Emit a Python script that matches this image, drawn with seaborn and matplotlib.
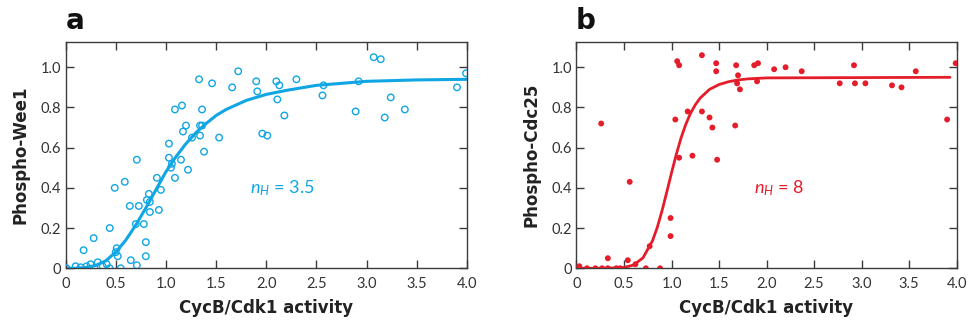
import matplotlib
matplotlib.use('Agg')
import pandas as pd
import matplotlib.pyplot as plt
import seaborn as sns

WEE1_COLOR = '#10A6E4'
CDC25_COLOR = '#E51D2A'
AXIS_COLOR = '#3c3c3c'

# panel a: phospho-Wee1 measurements (open circles)
wee1_x = [0.01, 0.10, 0.15, 0.21, 0.18, 0.25, 0.28, 0.29, 0.32, 0.37, 0.41, 0.44, 0.44,
          0.49, 0.50, 0.51, 0.52, 0.55, 0.59, 0.64, 0.65, 0.70, 0.71, 0.71, 0.73, 0.78,
          0.80, 0.80, 0.81, 0.83, 0.84, 0.84, 0.91, 0.93, 0.95, 1.03, 1.03, 1.05, 1.06,
          1.09, 1.09, 1.15, 1.16, 1.17, 1.20, 1.22, 1.26, 1.33, 1.34, 1.34, 1.36, 1.36,
          1.38, 1.46, 1.53, 1.66, 1.72, 1.90, 1.91, 1.96, 2.01, 2.10, 2.11, 2.13, 2.18,
          2.30, 2.56, 2.57, 2.89, 2.92, 3.07, 3.14, 3.18, 3.24, 3.38, 3.90, 3.99]
wee1_y = [0.00, 0.01, 0.005, 0.01, 0.09, 0.02, 0.15, 0.00, 0.03, 0.01, 0.02, 0.20, 0.00,
          0.40, 0.08, 0.10, 0.06, 0.00, 0.43, 0.31, 0.04, 0.22, 0.54, 0.015, 0.31, 0.22,
          0.13, 0.06, 0.34, 0.37, 0.33, 0.28, 0.45, 0.29, 0.39, 0.55, 0.62, 0.50, 0.52,
          0.45, 0.79, 0.54, 0.81, 0.68, 0.71, 0.49, 0.65, 0.94, 0.66, 0.71, 0.79, 0.71,
          0.58, 0.92, 0.65, 0.90, 0.98, 0.93, 0.88, 0.67, 0.66, 0.93, 0.84, 0.91, 0.76,
          0.94, 0.86, 0.91, 0.78, 0.93, 1.05, 1.04, 0.75, 0.85, 0.79, 0.90, 0.97]

# panel a: fitted curve, n_H = 3.5
wee1_fit_x = [0.0, 0.1, 0.2, 0.3, 0.4, 0.5, 0.6, 0.7, 0.8, 0.9, 1.0, 1.1, 1.2, 1.3, 1.4,
              1.5, 1.6, 1.8, 2.0, 2.2, 2.5, 3.0, 3.5, 4.0]
wee1_fit_y = [0.0, 0.0, 0.004, 0.014, 0.037, 0.08, 0.14, 0.215, 0.30, 0.39, 0.48, 0.555,
              0.62, 0.675, 0.72, 0.76, 0.79, 0.835, 0.865, 0.885, 0.91, 0.93, 0.937, 0.94]

# panel b: phospho-Cdc25 measurements (filled dots)
cdc25_x = [0.03, 0.11, 0.20, 0.27, 0.26, 0.33, 0.33, 0.42, 0.46, 0.54, 0.56, 0.62, 0.73,
           0.77, 0.88, 0.99, 0.99, 1.04, 1.06, 1.08, 1.08, 1.17, 1.22, 1.32, 1.32, 1.40,
           1.43, 1.47, 1.47, 1.48, 1.67, 1.68, 1.70, 1.69, 1.72, 1.87, 1.91, 1.90, 2.08,
           2.20, 2.37, 2.77, 2.92, 2.93, 3.04, 3.32, 3.42, 3.57, 3.90, 3.99]
cdc25_y = [0.01, 0.00, 0.00, 0.00, 0.72, 0.00, 0.05, 0.00, 0.00, 0.04, 0.43, 0.02, 0.00,
           0.11, 0.00, 0.25, 0.16, 0.74, 1.03, 1.01, 0.55, 0.78, 0.56, 1.06, 0.78, 0.75,
           0.70, 1.02, 0.98, 0.54, 0.71, 1.01, 0.96, 0.92, 0.89, 1.01, 1.02, 0.93, 0.99,
           1.00, 0.98, 0.92, 1.01, 0.92, 0.92, 0.91, 0.90, 0.98, 0.74, 1.02]

# panel b: fitted curve, n_H = 8
cdc25_fit_x = [0.0, 0.3, 0.5, 0.6, 0.7, 0.8, 0.85, 0.9, 0.95, 1.0, 1.05, 1.1, 1.15, 1.2,
               1.25, 1.3, 1.4, 1.5, 1.6, 1.7, 1.8, 2.0, 3.93]
cdc25_fit_y = [0.0, 0.0, 0.004, 0.016, 0.052, 0.137, 0.203, 0.286, 0.379, 0.475, 0.566,
               0.648, 0.716, 0.771, 0.813, 0.846, 0.89, 0.914, 0.928, 0.937, 0.942, 0.947, 0.95]

x_ticks = [0, 0.5, 1.0, 1.5, 2.0, 2.5, 3.0, 3.5, 4.0]
x_tick_labels = ['0', '0.5', '1.0', '1.5', '2.0', '2.5', '3.0', '3.5', '4.0']
y_ticks = [0, 0.2, 0.4, 0.6, 0.8, 1.0]
y_tick_labels = ['0', '0.2', '0.4', '0.6', '0.8', '1.0']

df_wee1 = pd.DataFrame({'x': wee1_x, 'y': wee1_y})
df_wee1_fit = pd.DataFrame({'x': wee1_fit_x, 'y': wee1_fit_y})
df_cdc25 = pd.DataFrame({'x': cdc25_x, 'y': cdc25_y})
df_cdc25_fit = pd.DataFrame({'x': cdc25_fit_x, 'y': cdc25_fit_y})

sns.set_style('ticks')
plt.rcParams['font.family'] = ['Lato', 'DejaVu Sans']
plt.rcParams['mathtext.fontset'] = 'custom'
plt.rcParams['mathtext.it'] = 'Lato:italic'
plt.rcParams['mathtext.rm'] = 'Lato'

fig = plt.figure(figsize=(9.71, 3.24), dpi=100)
ax_a = fig.add_axes([0.0675, 0.172, 0.4135, 0.698])
ax_b = fig.add_axes([0.5937, 0.172, 0.3915, 0.698])


def style_axes(ax, ylabel):
    ax.set_xlim(0, 4.0)
    ax.set_ylim(0, 1.125)
    ax.set_xticks(x_ticks)
    ax.set_xticklabels(x_tick_labels)
    ax.set_yticks(y_ticks)
    ax.set_yticklabels(y_tick_labels)
    ax.tick_params(direction='in', length=6, width=1, color=AXIS_COLOR,
                   labelcolor='#333333', labelsize=10.5, top=True, right=True)
    ax.tick_params(axis='x', pad=6)
    ax.tick_params(axis='y', pad=3)
    for sp in ax.spines.values():
        sp.set_visible(True)
        sp.set_color(AXIS_COLOR)
        sp.set_linewidth(1.0)
    ax.set_xlabel('CycB/Cdk1 activity', fontsize=12, fontweight='bold',
                  family='DejaVu Sans', color='#222222', labelpad=6)
    ax.set_ylabel(ylabel, fontsize=12, fontweight='bold', family='DejaVu Sans',
                  color='#222222', labelpad=8)


# panel a
sns.lineplot(data=df_wee1_fit, x='x', y='y', ax=ax_a, color=WEE1_COLOR, linewidth=2.2,
             zorder=2)
sns.scatterplot(data=df_wee1, x='x', y='y', ax=ax_a, marker='o', s=22,
                facecolor='none', edgecolor=WEE1_COLOR, linewidth=1.0, zorder=3)
style_axes(ax_a, 'Phospho-Wee1')
ax_a.text(1.84, 0.40, r'$n_H$ = 3.5', color=WEE1_COLOR, fontsize=13, va='center')

# panel b
sns.lineplot(data=df_cdc25_fit, x='x', y='y', ax=ax_b, color=CDC25_COLOR, linewidth=2.0,
             zorder=2)
sns.scatterplot(data=df_cdc25, x='x', y='y', ax=ax_b, marker='o', s=18,
                color=CDC25_COLOR, edgecolor='none', zorder=3)
style_axes(ax_b, 'Phospho-Cdc25')
ax_b.text(1.87, 0.40, r'$n_H$ = 8', color=CDC25_COLOR, fontsize=13, va='center')

fig.text(0.068, 0.9105, 'a', fontsize=20, fontweight='bold', family='DejaVu Sans',
         color='#111111', va='baseline')
fig.text(0.593, 0.9105, 'b', fontsize=20, fontweight='bold', family='DejaVu Sans',
         color='#111111', va='baseline')

fig.savefig('out.png', dpi=100)
